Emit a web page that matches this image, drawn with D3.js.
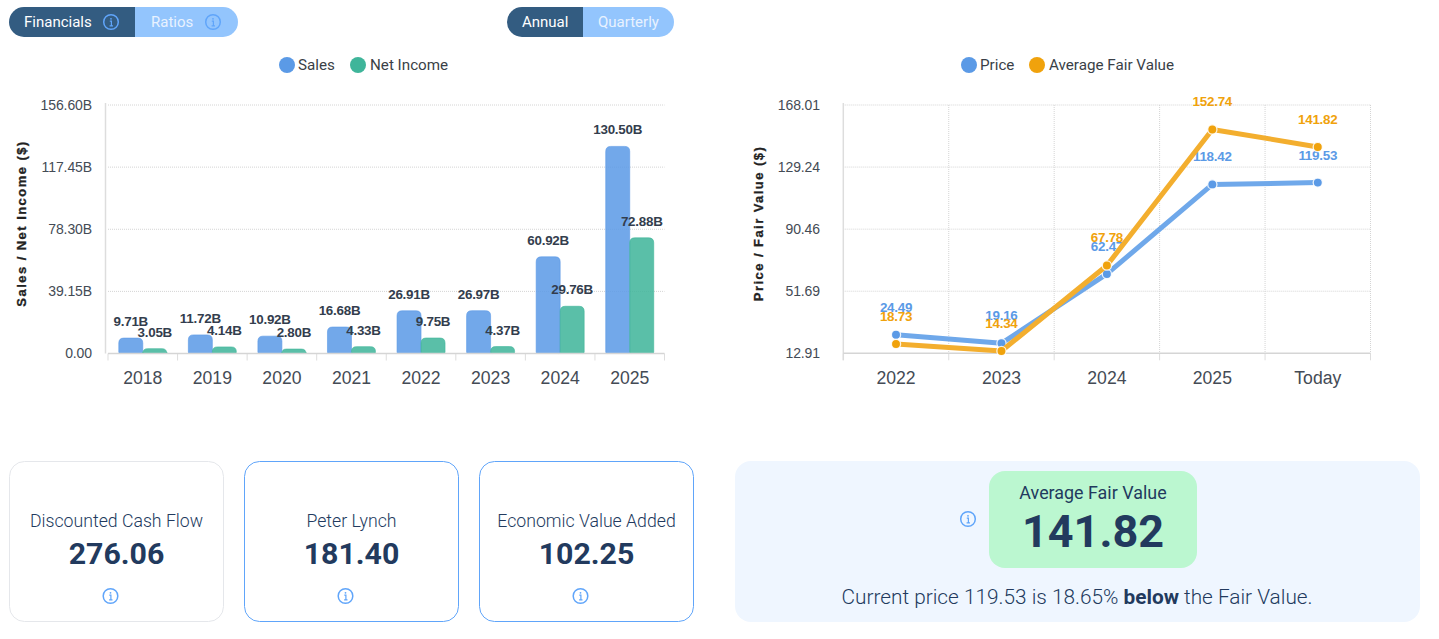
<!DOCTYPE html>
<html><head><meta charset="utf-8">
<script src="https://cdn.jsdelivr.net/npm/d3@7/dist/d3.min.js"></script>
<style>
html,body{margin:0;padding:0;background:#fff;overflow:hidden}
svg{display:block}
text{font-family:"Liberation Sans",Arial,sans-serif}
.rb text,text.rb{font-family:Roboto,sans-serif}
.axis path{display:none}
.axis .tick line{display:none}
</style></head><body>
<svg id="c" width="1439" height="639"></svg>
<script>
const years = ["2018","2019","2020","2021","2022","2023","2024","2025"];
const sales = [9.71,11.72,10.92,16.68,26.91,26.97,60.92,130.50];
const netIncome = [3.05,4.14,2.80,4.33,9.75,4.37,29.76,72.88];
const barTicks = [0,39.15,78.30,117.45,156.60];
const periods = ["2022","2023","2024","2025","Today"];
const price = [24.49,19.16,62.47,118.42,119.53];
const fairValue = [18.73,14.34,67.78,152.74,141.82];
const lineTicks = [12.91,51.69,90.46,129.24,168.01];
const modelNames = ["Discounted Cash Flow","Peter Lynch","Economic Value Added"];
const modelValues = ["276.06","181.40","102.25"];

const BLUE="#5b9ae6", GREEN="#3fb59a", ORANGE="#f0a20c", NAVY="#223a5e", DARK="#335c81", LIGHT="#93c5fd", TXT="#444b55";
const svg=d3.select("#c");

function info(g,cx,cy,col){
  const i=g.append("g").attr("transform",`translate(${cx},${cy})`);
  i.append("circle").attr("r",7.3).attr("fill","none").attr("stroke",col).attr("stroke-width",1.5);
  i.append("circle").attr("cy",-3.2).attr("r",0.9).attr("fill",col);
  i.append("path").attr("d","M-1.2,-0.8H0.4V3.6M-1.4,3.8H2").attr("fill","none").attr("stroke",col).attr("stroke-width",1.2);
}
function pill(x0,xm,x1,a,b,ax,bx,ai,bi){
  const y=7,h=30,r=15;
  svg.append("path").attr("fill",DARK).attr("d",`M${xm},${y}H${x0+r}A${r},${r} 0 0 0 ${x0+r},${y+h}H${xm}Z`);
  svg.append("path").attr("fill",LIGHT).attr("d",`M${xm},${y}H${x1-r}A${r},${r} 0 0 1 ${x1-r},${y+h}H${xm}Z`);
  svg.append("text").attr("class","rb").attr("x",ax).attr("y",27).attr("font-size",15).attr("fill","#fff").text(a);
  svg.append("text").attr("class","rb").attr("x",bx).attr("y",27).attr("font-size",15).attr("fill","#e8f2ff").text(b);
  if(ai) info(svg,ai,22,"#60a5fa");
  if(bi) info(svg,bi,22,"#60a5fa");
}
pill(9,135,238,"Financials","Ratios",24,151,111,213);
pill(507,583,674,"Annual","Quarterly",522,598);

function legend(cx,tx,col,label){
  svg.append("circle").attr("cx",cx).attr("cy",65).attr("r",8).attr("fill",col);
  svg.append("text").attr("class","rb").attr("x",tx).attr("y",70).attr("font-size",15.2).attr("fill","#3a3f47").text(label);
}
legend(287,298,BLUE,"Sales"); legend(358,370,GREEN,"Net Income");
legend(969,980,BLUE,"Price"); legend(1037,1049,ORANGE,"Average Fair Value");

function frame(xs,ys,ticks,fmt,title,titleX,titleY,axisX,tickLabelX,vgrid){
  const g=svg.append("g");
  const [l,r]=xs.range();
  g.selectAll("line.grid").data(ticks.slice(1)).join("line").attr("x1",l).attr("x2",r)
    .attr("y1",d=>ys(d)).attr("y2",d=>ys(d)).attr("stroke","#d4d4d4").attr("stroke-dasharray","1 1");
  g.append("line").attr("x1",axisX).attr("x2",axisX).attr("y1",ys.range()[1]-2).attr("y2",ys.range()[0]+(axisX===l?7:0)).attr("stroke","#ddd").attr("stroke-width",1.5);
  const edges=xs.domain().map(d=>xs(d)).concat([r]);
  g.selectAll("line.t").data(edges).join("line").attr("x1",d=>d).attr("x2",d=>d)
    .attr("y1",ys.range()[0]).attr("y2",ys.range()[0]+7).attr("stroke","#ddd");
  if(vgrid) g.append("g").selectAll("line").data(edges.slice(1)).join("line").attr("x1",d=>d).attr("x2",d=>d)
    .attr("y1",ys.range()[1]).attr("y2",ys.range()[0]).attr("stroke","#d4d4d4").attr("stroke-dasharray","1 1");
  const ya=g.append("g").attr("class","axis").attr("transform",`translate(${tickLabelX},0)`)
    .call(d3.axisLeft(ys).tickValues(ticks).tickFormat(fmt).tickSize(0).tickPadding(0));
  ya.selectAll("text").attr("font-size",14).attr("letter-spacing",-0.1).attr("fill",TXT).attr("font-family","Liberation Sans");
  const xa=g.append("g").attr("class","axis").attr("transform",`translate(0,${ys.range()[0]})`)
    .call(d3.axisBottom(xs).tickSize(0).tickPadding(18));
  xa.selectAll("text").attr("font-size",17.6).attr("fill",TXT).attr("font-family","Liberation Sans");
  g.append("text").attr("transform",`translate(${titleX},${titleY}) rotate(-90)`)
    .attr("text-anchor","middle").attr("font-size",13).attr("font-weight",700).attr("letter-spacing",1.45)
    .attr("fill","#222").attr("stroke","#222").attr("stroke-width",0.3).text(title);
}
function baseline(xs,ys){
  const [l,r]=xs.range();
  svg.append("line").attr("x1",l).attr("x2",r).attr("y1",ys.range()[0]).attr("y2",ys.range()[0]).attr("stroke","#d5d5d5").attr("stroke-width",1.5);
}

// bar chart
const xBar=d3.scaleBand().domain(years).range([108,664.5]);
const yBar=d3.scaleLinear().domain([0,156.6]).range([353.5,105]);
frame(xBar,yBar,barTicks,d=>d===0?"0.00":d.toFixed(2)+"B","Sales / Net Income ($)",26,223.5,105.5,92,false);
const barW=24;
function barPath(x,top,bot){
  const r=Math.min(5,bot-top), s=1.5;
  return `M${x},${bot-s}V${top+r}Q${x},${top} ${x+r},${top}H${x+barW-r}Q${x+barW},${top} ${x+barW},${top+r}V${bot-s}Q${x+barW},${bot} ${x+barW-s},${bot}H${x+s}Q${x},${bot} ${x},${bot-s}Z`;
}
function bars(vals,col,off){
  svg.append("g").selectAll("path").data(vals).join("path")
    .attr("d",(d,i)=>barPath(xBar(years[i])+xBar.bandwidth()/2+off,yBar(d),yBar(0)))
    .attr("fill",col).attr("fill-opacity",.86).attr("stroke",col).attr("stroke-opacity",.6).attr("stroke-width",1);
}
bars(sales,BLUE,-24); bars(netIncome,GREEN,0);
baseline(xBar,yBar);
function barLabels(vals,off){
  svg.append("g").selectAll("text").data(vals).join("text")
    .attr("x",(d,i)=>xBar(years[i])+xBar.bandwidth()/2+off).attr("y",d=>yBar(d)-12)
    .attr("text-anchor","middle").attr("font-size",13.4).attr("letter-spacing",-0.25).attr("font-weight",700).attr("fill","#333d4d")
    .text(d=>d.toFixed(2)+"B");
}
barLabels(sales,-12); barLabels(netIncome,12);

// line chart
const xLine=d3.scaleBand().domain(periods).range([843.3,1370.5]);
const yLine=d3.scaleLinear().domain([12.91,168.01]).range([353.3,105]);
frame(xLine,yLine,lineTicks,d=>d.toFixed(2),"Price / Fair Value ($)",763,223.5,843.3,820,true);
baseline(xLine,yLine);
const cx=i=>xLine(periods[i])+xLine.bandwidth()/2;
function series(vals,col,lineCol){
  const ln=d3.line().x((d,i)=>cx(i)).y(d=>yLine(d));
  const g=svg.append("g");
  g.append("path").attr("d",ln(vals)).attr("fill","none").attr("stroke",lineCol).attr("stroke-width",5).attr("stroke-linejoin","round");
  g.selectAll("circle").data(vals).join("circle").attr("cx",(d,i)=>cx(i)).attr("cy",d=>yLine(d)).attr("r",4.6)
    .attr("fill",col).attr("stroke","#fff").attr("stroke-opacity",.85).attr("stroke-width",1.3);
  svg.append("g").selectAll("text").data(vals).join("text").attr("x",(d,i)=>cx(i)).attr("y",d=>yLine(d)-23)
    .attr("text-anchor","middle").attr("font-size",13.4).attr("letter-spacing",-0.25).attr("font-weight",700).attr("fill",col).text(d=>d.toFixed(2));
}
series(price,BLUE,"#6fa8ea");
series(fairValue,ORANGE,"#f3ae2e");

// model cards
const cardX=d3.scaleBand().domain(modelNames).range([9,694]).paddingInner(20/235).paddingOuter(0);
const cards=svg.append("g").selectAll("g").data(modelNames).join("g").attr("transform",d=>`translate(${cardX(d)},461)`);
cards.append("rect").attr("x",.5).attr("y",.5).attr("width",214).attr("height",160).attr("rx",15).attr("fill","#fff")
  .attr("stroke",(d,i)=>i===0?"#e5e7eb":"#60a5fa");
cards.append("text").attr("class","rb").attr("x",107.5).attr("y",66).attr("text-anchor","middle").attr("font-size",17.7).attr("font-weight",300).attr("fill",NAVY).text(d=>d);
cards.append("text").attr("class","rb").attr("x",107.5).attr("y",103).attr("text-anchor","middle").attr("font-size",30.3).attr("font-weight",700).attr("fill",NAVY).text((d,i)=>modelValues[i]);
cards.each(function(){info(d3.select(this),101.5,135,"#60a5fa");});

// summary panel
svg.append("rect").attr("x",735).attr("y",461).attr("width",685).attr("height",161).attr("rx",16).attr("fill","#eff6ff");
svg.append("rect").attr("x",989).attr("y",471).attr("width",208).attr("height",97).attr("rx",16).attr("fill","#bbf7d0");
info(svg,968,519,"#60a5fa");
svg.append("text").attr("class","rb").attr("x",1093).attr("y",499).attr("text-anchor","middle").attr("font-size",17.9).attr("fill",NAVY).text("Average Fair Value");
svg.append("text").attr("class","rb").attr("x",1093).attr("y",547).attr("text-anchor","middle").attr("font-size",45).attr("font-weight",700).attr("fill",NAVY).text(fairValue[4].toFixed(2));
const msg=svg.append("text").attr("class","rb").attr("x",1077).attr("y",604).attr("text-anchor","middle").attr("font-size",20.8).attr("font-weight",300).attr("fill",NAVY);
msg.append("tspan").text(`Current price ${price[4].toFixed(2)} is 18.65% `);
msg.append("tspan").attr("font-weight",700).text("below");
msg.append("tspan").text(" the Fair Value.");
</script></body></html>
